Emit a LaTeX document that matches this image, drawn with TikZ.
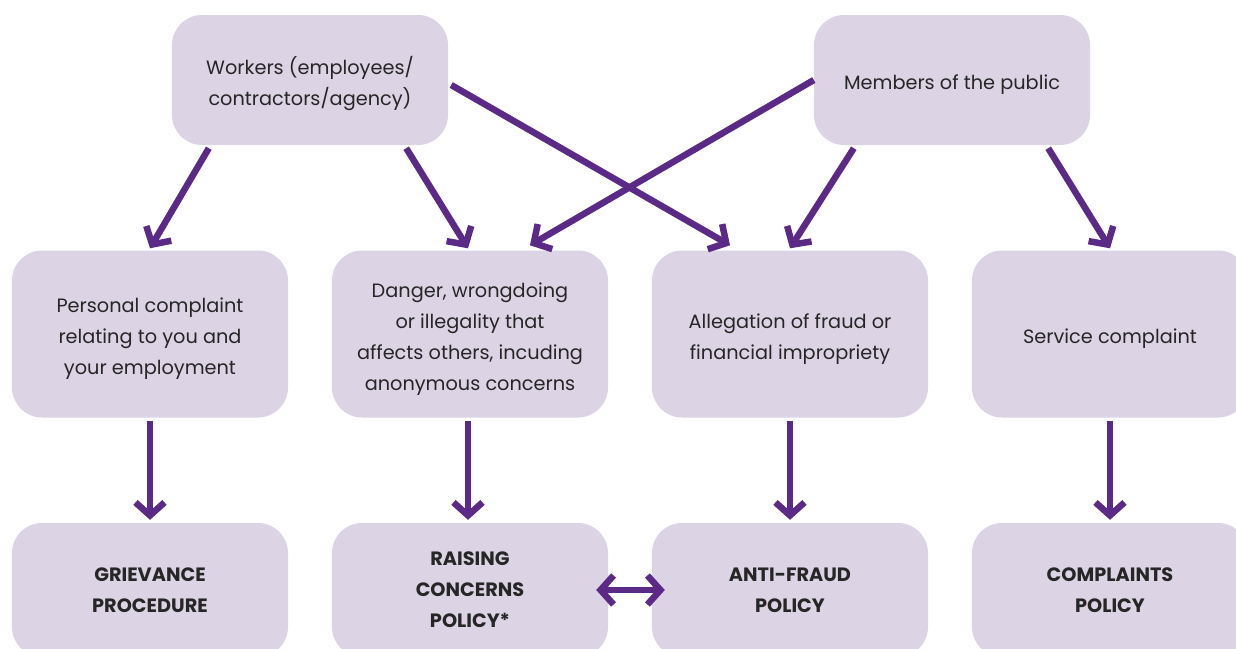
\documentclass[tikz,border=0pt]{standalone}
\usepackage{fontspec}
\setmainfont{Poppins}
\usetikzlibrary{arrows.meta,calc}
\definecolor{boxfill}{HTML}{DCD3E5}
\definecolor{arr}{HTML}{5B2A86}
\definecolor{txt}{HTML}{262626}
\begin{document}
\begin{tikzpicture}[x=1pt,y=-1pt,
  box/.style={fill=boxfill,rounded corners=30pt,inner sep=0pt,minimum width=276pt},
  topbox/.style={box,minimum height=130pt},
  midbox/.style={box,minimum height=167pt},
  botbox/.style={box,minimum height=134pt},
  lbl/.style={align=center,text=txt,inner sep=0pt,font=\fontsize{19.3}{31}\selectfont},
  blbl/.style={lbl,font=\fontsize{19.3}{31}\selectfont\bfseries},
  conn/.style={draw=arr,line width=6.5pt,-{Straight Barb[length=13pt,width=29pt,line width=6.5pt]}},
  dconn/.style={draw=arr,line width=6.5pt,{Straight Barb[length=13pt,width=29pt,line width=6.5pt]}-{Straight Barb[length=13pt,width=29pt,line width=6.5pt]}}]
\useasboundingbox (0,0) rectangle (1236,648);
\clip (0,0) rectangle (1236,648);
% top row
\node[topbox] (w) at (310,80) {};
\node[lbl] (wt) at ($(w)+(0,4)$) {Workers (employees/\\contractors/agency)};
\node[topbox] (m) at (952,80) {};
\node[lbl] (mt) at ($(m)+(0,5)$) {Members of the public};
% middle row
\node[midbox] (p1) at (150,334) {};
\node[lbl] (p1t) at ($(p1)+(0,5)$) {Personal complaint\\relating to you and\\your employment};
\node[midbox] (p2) at (470,334) {};
\node[lbl] (p2t) at ($(p2)+(0,5)$) {Danger, wrongdoing\\or illegality that\\affects others, incuding\\anonymous concerns};
\node[midbox] (p3) at (790,334) {};
\node[lbl] (p3t) at ($(p3)+(0,5)$) {Allegation of fraud or\\financial impropriety};
\node[midbox] (p4) at (1110,334) {};
\node[lbl] (p4t) at ($(p4)+(0,5)$) {Service complaint};
% bottom row
\node[botbox] (b1) at (150,590) {};
\node[blbl] (b1t) at (b1) {GRIEVANCE\\PROCEDURE};
\node[botbox] (b2) at (470,590) {};
\node[blbl] (b2t) at (b2) {RAISING\\CONCERNS\\POLICY*};
\node[botbox] (b3) at (790,590) {};
\node[blbl] (b3t) at (b3) {ANTI-FRAUD\\POLICY};
\node[botbox] (b4) at (1110,590) {};
\node[blbl] (b4t) at (b4) {COMPLAINTS\\POLICY};
% connectors
\draw[conn] ($(w.south west)+(37,3)$) -- ($(p1.north)+(0,-2)$);
\draw[conn] ($(w.south east)+(-42,3)$) -- ($(p2.north)+(-2,-2)$);
\draw[conn] ($(w.east)+(3,5)$) -- ($(p3.north)+(-60,-5)$);
\draw[conn] ($(m.west)+(0,0)$) -- ($(p2.north)+(60,-5)$);
\draw[conn] ($(m.south west)+(40,3)$) -- ($(p3.north)+(0,-2)$);
\draw[conn] ($(m.south east)+(-42,3)$) -- ($(p4.north)+(0,-2)$);
\draw[conn] ($(p1.south)+(0,3)$) -- ($(b1.north)+(0,-3)$);
\draw[conn] ($(p2.south)+(-2,3)$) -- ($(b2.north)+(-2,-3)$);
\draw[conn] ($(p3.south)+(0,3)$) -- ($(b3.north)+(0,-3)$);
\draw[conn] ($(p4.south)+(0,3)$) -- ($(b4.north)+(0,-3)$);
\draw[dconn] ($(b2.east)+(-12,0)$) -- ($(b3.west)+(13,0)$);
\end{tikzpicture}
\end{document}
